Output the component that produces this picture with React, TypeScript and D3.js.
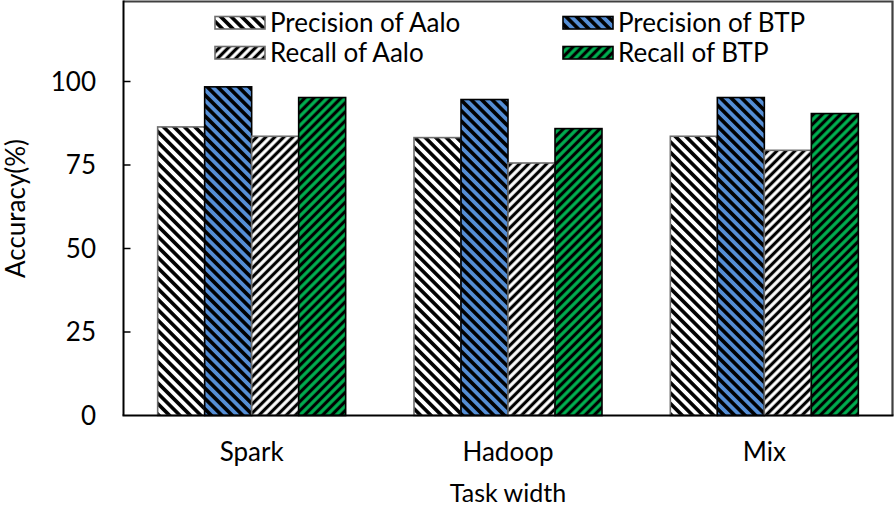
import React from 'react'
import * as d3 from 'd3'

const categories = ['Spark', 'Hadoop', 'Mix']
const seriesNames = ['Precision of Aalo', 'Precision of BTP', 'Recall of Aalo', 'Recall of BTP']
const precisionAalo = [86.4, 83.2, 83.6]
const precisionBTP = [98.4, 94.6, 95.2]
const recallAalo = [83.6, 75.6, 79.4]
const recallBTP = [95.2, 85.9, 90.4]
const yTicks = [0, 25, 50, 75, 100]

const W = 896, H = 508
const left = 123.5, right = 892.5, top = 1.5, bottom = 415.5
const FONT = 'Lato, "Open Sans", sans-serif'
const FS = 26

// look of each series: background, stripe direction, border
const looks = [
  { bg: '#ffffff', rot: -45, size: 7.4, sw: 3.6, stroke: '#6e6e6e', id: 'pa' },
  { bg: '#558ed5', rot: -45, size: 7.4, sw: 3.6, stroke: '#000000', id: 'pb' },
  { bg: '#ffffff', rot: 45, size: 6.4, sw: 3.2, stroke: '#6e6e6e', id: 'ra' },
  { bg: '#00b050', rot: 45, size: 6.4, sw: 3.2, stroke: '#000000', id: 'rb' },
]

const App = () => {
  const values = [precisionAalo, precisionBTP, recallAalo, recallBTP]
  const y = d3.scaleLinear().domain([0, 100]).range([bottom, 81.5])
  const x0 = d3.scaleBand().domain(categories).range([left, right]).padding(0)
  const groupW = 188
  const x1 = d3.scaleBand().domain(seriesNames).range([0, groupW]).padding(0)

  return (
    <svg width={W} height={H} style={{ display: 'block', position: 'absolute', left: 0, top: 0 }}
      fontFamily={FONT}>
      <defs>
        {looks.map(l => (
          <pattern key={l.id} id={l.id} patternUnits="userSpaceOnUse" width={l.size} height={l.size}
            patternTransform={`rotate(${l.rot})`}>
            <rect width={l.size} height={l.size} fill={l.bg} />
            <line x1={l.size / 2} y1={-1} x2={l.size / 2} y2={l.size + 1} stroke="#000" strokeWidth={l.sw} />
          </pattern>
        ))}
      </defs>
      <rect x={0} y={0} width={W} height={H} fill="#fff" />

      {/* bars */}
      {categories.map((c, ci) => {
        const gx = x0(c)! + (x0.bandwidth() - groupW) / 2
        return (
          <g key={c}>
            {seriesNames.map((s, si) => {
              const v = values[si][ci]
              return (
                <rect key={s} x={gx + x1(s)!} y={y(v)} width={x1.bandwidth()} height={bottom - y(v)}
                  fill={`url(#${looks[si].id})`} stroke={looks[si].stroke} strokeWidth={1.6} />
              )
            })}
          </g>
        )
      })}

      {/* frame */}
      <path d={`M${left},${top}H${right}V${bottom}`} fill="none" stroke="#404040" strokeWidth={2.2} />
      <line x1={left} x2={left} y1={top - 1} y2={bottom} stroke="#000" strokeWidth={2} />
      <line x1={left - 1} x2={right + 1} y1={bottom} y2={bottom} stroke="#000" strokeWidth={2} />

      {/* y ticks */}
      {yTicks.map(t => (
        <g key={t}>
          {t > 0 && <line x1={left} x2={left + 7} y1={y(t)} y2={y(t)} stroke="#000" strokeWidth={1.5} />}
          <text x={96} y={y(t)} dy="0.36em" textAnchor="end" fontSize={FS} fill="#000">{t}</text>
        </g>
      ))}

      {/* x labels */}
      {categories.map(c => (
        <text key={c} x={x0(c)! + x0.bandwidth() / 2} y={461} textAnchor="middle" fontSize={FS} fill="#000">{c}</text>
      ))}

      <text x={(left + right) / 2} y={502} textAnchor="middle" fontSize={25} fill="#000">Task width</text>
      <text transform={`translate(25,${(top + bottom) / 2}) rotate(-90)`} textAnchor="middle" fontSize={FS} fill="#000">Accuracy(%)</text>

      {/* legend */}
      {seriesNames.map((s, si) => {
        const lx = si % 2 === 0 ? 215 : 563
        const ly = si < 2 ? 16.5 : 46.5
        return (
          <g key={s}>
            <rect x={lx} y={ly} width={50} height={12.5} fill={`url(#${looks[si].id})`}
              stroke={looks[si].stroke} strokeWidth={1.6} />
            <text x={lx + 55} y={ly + 6.5} dy="0.36em" fontSize={FS} fill="#000">{s}</text>
          </g>
        )
      })}
    </svg>
  )
}

export default App
